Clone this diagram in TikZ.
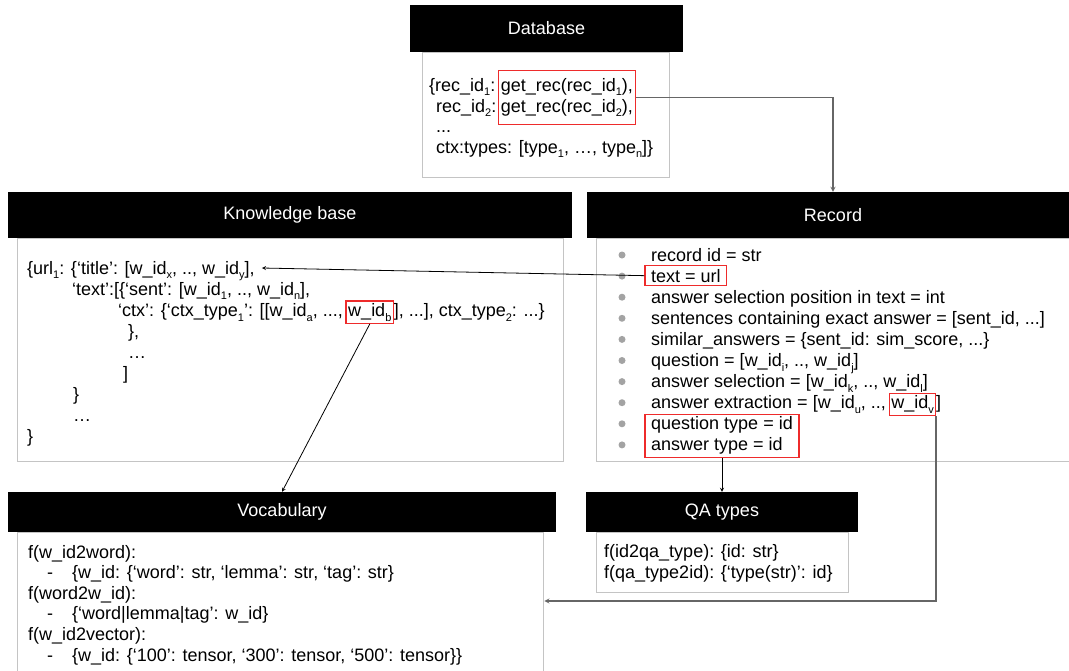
\documentclass[tikz,border=0pt]{standalone}
\usepackage{fontspec}
\setmainfont{Liberation Sans}
\usetikzlibrary{fit}

\definecolor{boxred}{HTML}{EE2B2B}
\definecolor{rimgray}{HTML}{C4C4C4}
\definecolor{dotgray}{HTML}{A3A3A3}
\newcommand{\tfont}{\fontsize{18}{21}\selectfont}
\newcommand{\sbs}[1]{\raisebox{-0.27em}{\fontsize{11}{11}\selectfont #1}}

\tikzset{
  head/.style={fill=black, text=white, font=\tfont, inner sep=0pt},
  panel/.style={draw=rimgray, line width=1.4pt, fill=white, anchor=north west, inner sep=0pt},
  txt/.style={anchor=base west, inner sep=0pt, font=\tfont},
  redbox/.style={draw=boxred, line width=1.1pt, inner sep=2pt},
  link/.style={->, line width=0.8pt},
  graylink/.style={->, line width=1.2pt, black!60}
}

\begin{document}
\begin{tikzpicture}[>=stealth, x=1pt, y=-1pt]
  \useasboundingbox (0,0) rectangle (1069,670);
  \clip (0,0) rectangle (1069,670);

  % Panels (drawn first, headers sit on top)
  \node[panel, minimum width=247pt, minimum height=125pt] (dbbody) at (422,52) {};
  \node[panel, minimum width=546pt, minimum height=223pt] (kbbody) at (17,238) {};
  \node[panel, minimum width=480pt, minimum height=223pt] (recbody) at (596,238) {};
  \node[panel, minimum width=526pt, minimum height=160pt] (vocbody) at (17,532) {};
  \node[panel, minimum width=252pt, minimum height=60pt] (qabody) at (596,532) {};

  % Headers
  \node[head, minimum width=273pt, minimum height=47pt] (dbhead) at (546.5,28.5) {Database};
  \node[head, minimum width=564pt, minimum height=46pt] (kbhead) at (290,215) {Knowledge base};
  \node[head, minimum width=492pt, minimum height=46pt] (rechead) at (833,215) {Record};
  \node[head, minimum width=548pt, minimum height=40pt] (vochead) at (282,512) {Vocabulary};
  \node[head, minimum width=272pt, minimum height=40pt] (qahead) at (722,512) {QA types};

  % Database
  \node[txt] (db1a) at (429,91) {\{rec\_id\sbs{1}:};
  \node[txt] (db1b) at ([xshift=5pt]db1a.base east) {get\_rec(rec\_id\sbs{1}),};
  \node[txt] (db2a) at (436,112) {rec\_id\sbs{2}:};
  \node[txt] (db2b) at (db1b.base west |- db2a.base) {get\_rec(rec\_id\sbs{2}),};
  \node[txt] (db3) at (436,132) {...};
  \node[txt] (db4) at (436,153) {ctx:types: [type\sbs{1}, …, type\sbs{n}]\}};
  \node[redbox, inner ysep=7pt, fit=(db1b)(db2b)] (dbrec) {};

  % Knowledge base
  \node[txt] (kb1) at (27,274) {\{url\sbs{1}: \{‘title’: [w\_id\sbs{x}, .., w\_id\sbs{y}],};
  \node[txt] (kb2) at (72,295.1) {‘text’:[\{‘sent’: [w\_id\sbs{1}, .., w\_id\sbs{n}],};
  \node[txt] (kb3) at (118,316.2) {‘ctx’: \{‘ctx\_type\sbs{1}’: [[w\_id\sbs{a}, ...,};
  \node[txt] (kb3b) at ([xshift=5pt]kb3.base east) {w\_id\sbs{b}};
  \node[txt] (kb3c) at ([xshift=2pt]kb3b.base east) {], ...], ctx\_type\sbs{2}: ...\}};
  \node[redbox, fit=(kb3b)] (wbox) {};
  \node[txt] (kb4) at (128,337.3) {\},};
  \node[txt] (kb5) at (128,358.4) {…};
  \node[txt] (kb6) at (123,379.5) {]};
  \node[txt] (kb7) at (73,400.6) {\}};
  \node[txt] (kb8) at (73,421.7) {…};
  \node[txt] (kb9) at (27,442.8) {\}};

  % Record
  \foreach \i in {1,...,10}
    \fill[dotgray] (622,{255+21.1*(\i-1)}) circle (3.5pt);
  \foreach \i/\t in {1/{record id = str}, 2/{text = url},
      3/{answer selection position in text = int},
      4/{sentences containing exact answer = [sent\_id, ...]},
      5/{similar\_answers = \{sent\_id: sim\_score, ...\}},
      6/{question = [w\_id\sbs{i}, .., w\_id\sbs{j}]},
      7/{answer selection = [w\_id\sbs{k}, .., w\_id\sbs{l}]},
      9/{question type = id}, 10/{answer type = id}}
    \node[txt] (r\i) at (651,{261+21.1*(\i-1)}) {\t};
  \node[txt] (r8) at (651,408.7) {answer extraction = [w\_id\sbs{u}, ..,};
  \node[txt] (r8v) at ([xshift=5pt]r8.base east) {w\_id\sbs{v}};
  \node[txt] (r8c) at ([xshift=2pt]r8v.base east) {]};
  \node[redbox, inner xsep=6pt, inner ysep=3pt, fit=(r2)] (urlbox) {};
  \node[redbox, inner xsep=1.5pt, fit=(r8v)] (vbox) {};
  \node[redbox, inner xsep=6pt, inner ysep=2.5pt, fit=(r9)(r10)] (qtbox) {};

  % Vocabulary
  \node[txt] (v1) at (28,558) {f(w\_id2word):};
  \node[txt] (v2d) at (47,578.6) {-};
  \node[txt] (v2) at (72,578.6) {\{w\_id: \{‘word’: str, ‘lemma’: str, ‘tag’: str\}};
  \node[txt] (v3) at (28,599.2) {f(word2w\_id):};
  \node[txt] (v4d) at (47,619.8) {-};
  \node[txt] (v4) at (72,619.8) {\{‘word|lemma|tag’: w\_id\}};
  \node[txt] (v5) at (28,640.4) {f(w\_id2vector):};
  \node[txt] (v6d) at (47,661) {-};
  \node[txt] (v6) at (72,661) {\{w\_id: \{‘100’: tensor, ‘300’: tensor, ‘500’: tensor\}\}};

  % QA types
  \node[txt] (qa1) at (604,557) {f(id2qa\_type): \{id: str\}};
  \node[txt] (qa2) at (604,578) {f(qa\_type2id): \{‘type(str)’: id\}};

  % Connectors
  \coordinate (vocin) at (vocbody.east |- 0,601);
  \draw[graylink] (dbrec.east) -| (rechead.north);
  \draw[link] (urlbox.west) -- ([xshift=7pt,yshift=6pt]kb1.base east);
  \draw[link] (wbox.south) -- (vochead.north);
  \draw[link] (qtbox.south) -- (qtbox.south |- qahead.north);
  \draw[graylink] (vbox.south east) |- (vocin);
\end{tikzpicture}
\end{document}
